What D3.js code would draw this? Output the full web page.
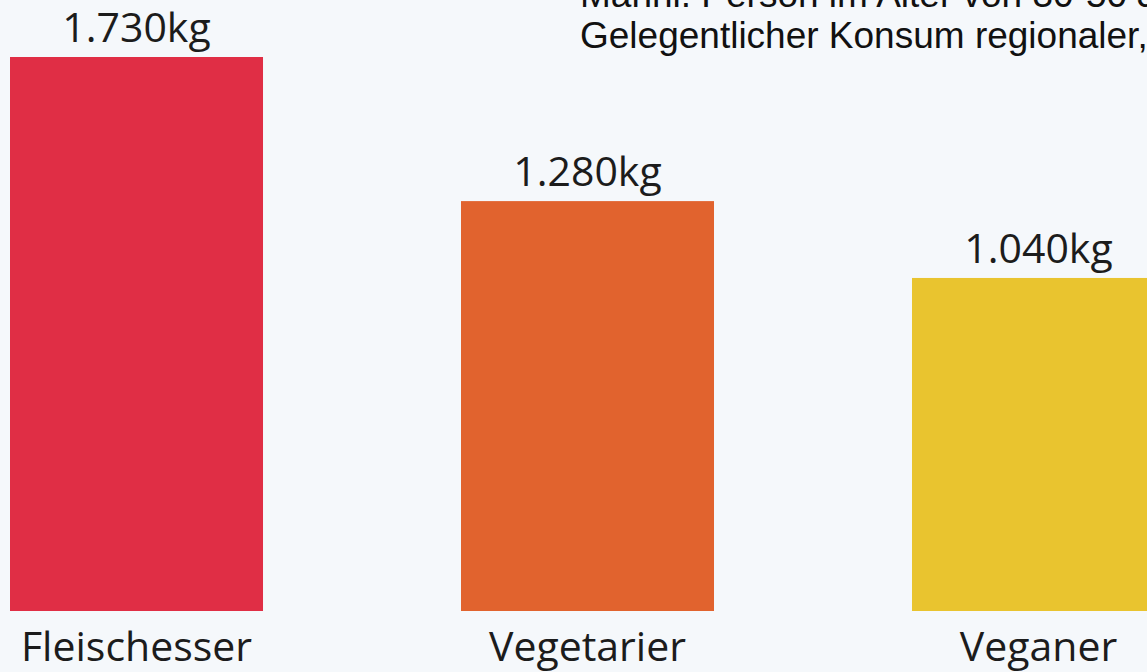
<!DOCTYPE html>
<html>
<head>
<meta charset="utf-8">
<script src="https://cdn.jsdelivr.net/npm/d3@7"></script>
<style>
    html, body { margin: 0; padding: 0; background: #f5f8fb; overflow: hidden; }
    #chart { width: 1147px; height: 672px; }
</style>
</head>
<body>
<div id="chart"></div>
<script>
// Data
const categories = ['Fleischesser', 'Vegetarier', 'Veganer'];
const values = [1730, 1280, 1040];
const valueLabels = ['1.730kg', '1.280kg', '1.040kg'];
const barColors = ['#e02e45', '#e1632e', '#e9c42f'];
const noteLines = [
    'Männl. Person im Alter von 30-50 Jahren,',
    'Gelegentlicher Konsum regionaler,'
];

const width = 1147;
const height = 672;

const svg = d3.select('#chart').append('svg')
    .attr('width', width)
    .attr('height', height);

svg.append('rect')
    .attr('width', width)
    .attr('height', height)
    .attr('fill', '#f5f8fb');

const xScale = d3.scaleBand()
    .domain(categories)
    .range([10, 1165])
    .paddingInner(0.439)
    .paddingOuter(0);

const yScale = d3.scaleLinear()
    .domain([0, d3.max(values)])
    .range([611, 57]);

const data = categories.map((c, i) => ({ cat: c, value: values[i], label: valueLabels[i], color: barColors[i] }));

// Bars
svg.selectAll('.bar')
    .data(data)
    .join('rect')
    .attr('class', 'bar')
    .attr('x', d => xScale(d.cat))
    .attr('y', d => yScale(d.value))
    .attr('width', xScale.bandwidth())
    .attr('height', d => yScale(0) - yScale(d.value))
    .attr('fill', d => d.color);

// Value labels above bars
svg.selectAll('.value-label')
    .data(data)
    .join('text')
    .attr('class', 'value-label')
    .attr('x', d => xScale(d.cat) + xScale.bandwidth() / 2)
    .attr('y', d => yScale(d.value) - 15)
    .attr('text-anchor', 'middle')
    .style('font-family', '"Open Sans", sans-serif')
    .style('font-size', '41px')
    .style('fill', '#1c1c1c')
    .text(d => d.label);

// Category labels
svg.selectAll('.cat-label')
    .data(data)
    .join('text')
    .attr('class', 'cat-label')
    .attr('x', d => xScale(d.cat) + xScale.bandwidth() / 2)
    .attr('y', 661)
    .attr('text-anchor', 'middle')
    .style('font-family', '"Open Sans", sans-serif')
    .style('font-size', '41px')
    .style('fill', '#1c1c1c')
    .text(d => d.cat);

// Note text (top right, partially cut off)
svg.selectAll('.note')
    .data(noteLines)
    .join('text')
    .attr('class', 'note')
    .attr('x', 580)
    .attr('y', (d, i) => 7 + i * 41)
    .style('font-family', '"Liberation Sans", Arial, sans-serif')
    .style('font-size', '37px')
    .style('fill', '#111')
    .text(d => d);
</script>
</body>
</html>
